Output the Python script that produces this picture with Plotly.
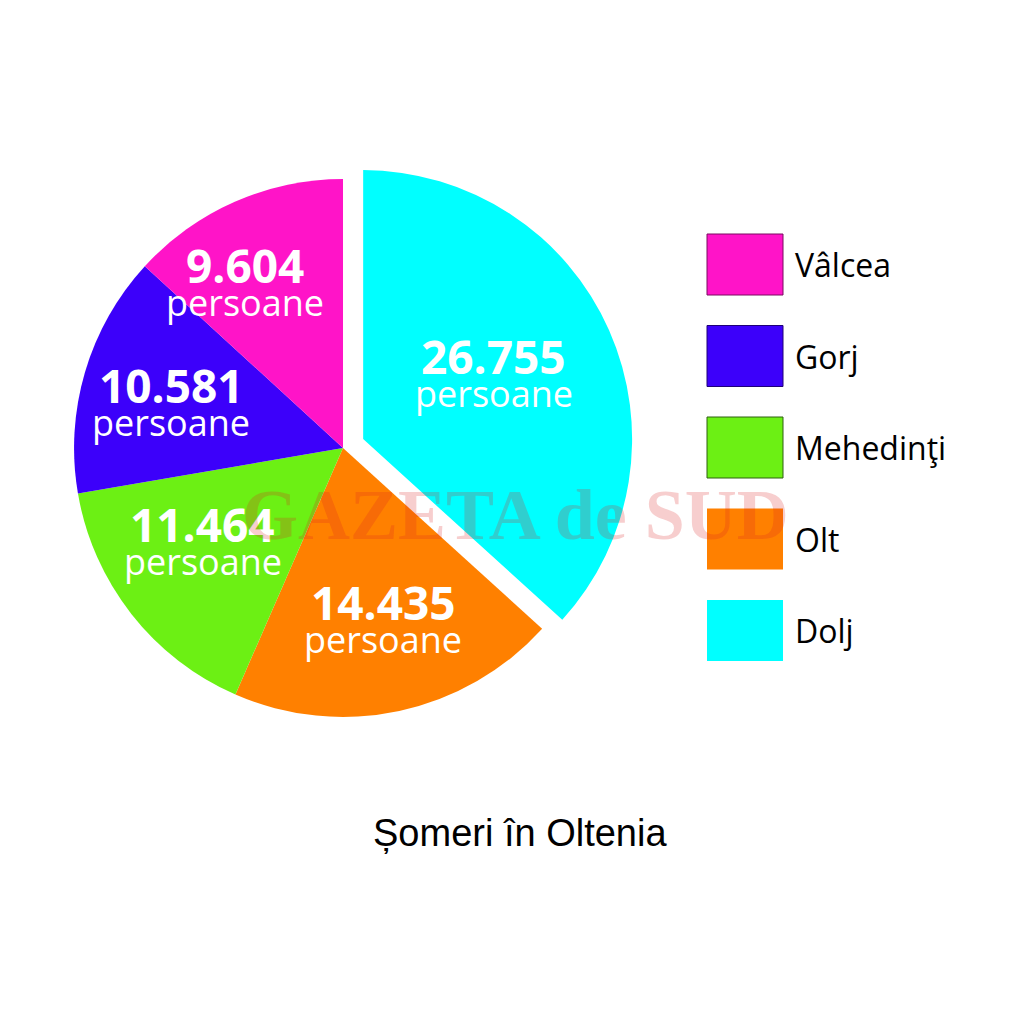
import math
import plotly.graph_objects as go

# ---- data (legend order) ----
regions = ["Vâlcea", "Gorj", "Mehedinţi", "Olt", "Dolj"]
values = [9604, 10581, 11464, 14435, 26755]
value_labels = ["9.604", "10.581", "11.464", "14.435", "26.755"]
unit_label = "persoane"
title_text = "Șomeri în Oltenia"
watermark_text = "GAZETA de SUD"

# ---- style ----
colors = ["#FF14C8", "#3C00FA", "#6CF014", "#FF8000", "#00FFFF"]
outline_colors = ["#7A0A60", "#1E0078", "#2E6010", "rgba(0,0,0,0)", "rgba(0,0,0,0)"]
pulls = [0, 0, 0, 0, 0.082]
label_radius = [0.71, 0.66, 0.63, 0.66, 0.54]
label_angle_nudge = [7, 2, -4, 1, 2]

W = H = 1024
OFF = 8  # page offset of the plot div


def px_x(page_x):
    return (page_x - OFF) / W


def px_y(page_y):
    return 1 - (page_y - OFF) / H


dom_x = [px_x(52), px_x(634)]
dom_y = [px_y(739), px_y(157)]

# pie drawn clockwise from 12 o'clock, starting with the last legend entry
order = list(range(len(regions)))[::-1]

fig = go.Figure()
fig.add_trace(go.Pie(
    labels=[regions[i] for i in order], values=[values[i] for i in order],
    sort=False, direction="clockwise", rotation=0,
    pull=[pulls[i] for i in order], textinfo="none", hoverinfo="label+value",
    marker=dict(colors=[colors[i] for i in order], line=dict(width=0)),
    domain=dict(x=dom_x, y=dom_y), showlegend=False,
))

# pie geometry (same rule plotly uses)
box = min((dom_x[1] - dom_x[0]) * W, (dom_y[1] - dom_y[0]) * H)
R = box / (2 + 2 * max(pulls))
cx = (dom_x[0] + dom_x[1]) / 2 * W
cy = (1 - (dom_y[0] + dom_y[1]) / 2) * H

annotations = []
total = sum(values)
start = 90.0
for i in order:
    span = 360.0 * values[i] / total
    mid = math.radians(start - span / 2 + label_angle_nudge[i])
    start -= span
    rr = (label_radius[i] + pulls[i]) * R
    ax = (cx + rr * math.cos(mid)) / W
    ay = 1 - (cy - rr * math.sin(mid)) / H
    annotations.append(dict(x=ax, y=ay, xref="paper", yref="paper", text="<b>" + value_labels[i] + "</b>",
                            showarrow=False, yshift=19, xanchor="center", yanchor="middle",
                            font=dict(family="Open Sans", size=46, color="white")))
    annotations.append(dict(x=ax, y=ay, xref="paper", yref="paper", text=unit_label,
                            showarrow=False, yshift=-19, xanchor="center", yanchor="middle",
                            font=dict(family="Open Sans", size=36, color="white")))

# custom legend
shapes = []
for i, name in enumerate(regions):
    top = 234 + i * 91.5
    shapes.append(dict(type="rect", xref="paper", yref="paper",
                       x0=px_x(707), x1=px_x(783), y0=px_y(top), y1=px_y(top + 61),
                       fillcolor=colors[i], line=dict(color=outline_colors[i], width=1)))
    annotations.append(dict(x=px_x(793), y=px_y(top + 30.5), xref="paper", yref="paper",
                            text=name, showarrow=False, xanchor="left", yanchor="middle",
                            font=dict(family="Open Sans", size=32, color="black")))

annotations.append(dict(x=px_x(520), y=px_y(833), xref="paper", yref="paper", text=title_text,
                        showarrow=False, xanchor="center", yanchor="middle",
                        font=dict(family="Liberation Sans", size=38, color="black")))

annotations.append(dict(x=px_x(515), y=px_y(515), xref="paper", yref="paper",
                        text="<b>" + watermark_text + "</b>", showarrow=False,
                        xanchor="center", yanchor="middle",
                        font=dict(family="Liberation Serif", size=72, color="rgba(220,30,30,0.22)")))

fig.update_layout(width=W, height=H, margin=dict(l=0, r=0, t=0, b=0),
                  paper_bgcolor="white", plot_bgcolor="white",
                  shapes=shapes, annotations=annotations)

fig.write_html("out.html")
